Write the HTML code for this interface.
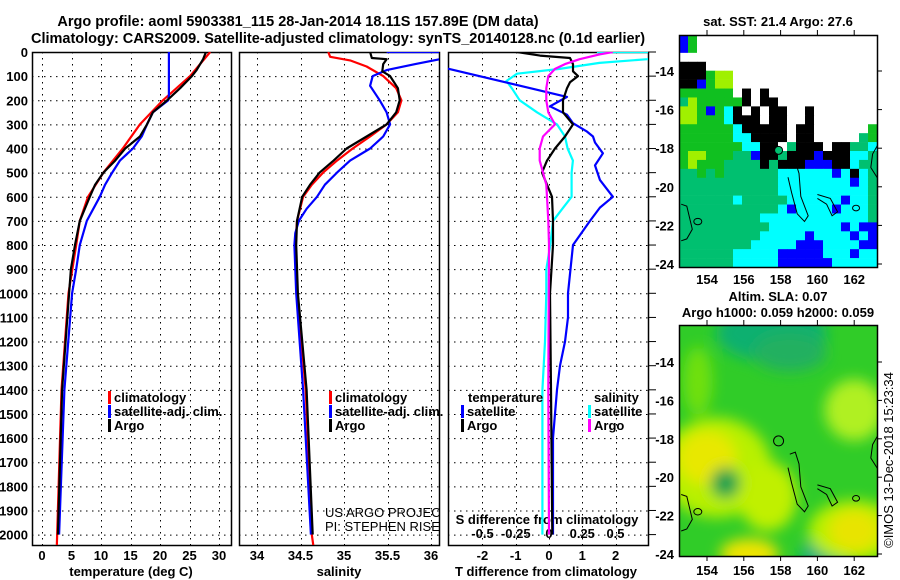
<!DOCTYPE html>
<html><head><meta charset="utf-8">
<style>
html,body{margin:0;padding:0;background:#fff;}
svg{display:block;font-family:"Liberation Sans",Arial,sans-serif;}
.b{font-weight:bold;font-size:13px;fill:#000;}
.n{font-weight:normal;font-size:13px;fill:#000;}
</style></head>
<body>
<svg id="fig" width="900" height="580" viewBox="0 0 900 580">
<defs>
<clipPath id="cp1"><rect x="32" y="52" width="199" height="493"/></clipPath>
<clipPath id="cp2"><rect x="239" y="52" width="200" height="493"/></clipPath>
<clipPath id="cp3"><rect x="448" y="52" width="200" height="493"/></clipPath>
<clipPath id="cm1"><rect x="679" y="35" width="198" height="232"/></clipPath>
<clipPath id="cm2"><rect x="679" y="325" width="198" height="231"/></clipPath>
<filter id="blur" x="-50%" y="-50%" width="200%" height="200%"><feGaussianBlur stdDeviation="7"/></filter>
</defs>
<text x="298" y="26" text-anchor="middle" font-weight="bold" font-size="14.5">Argo profile: aoml 5903381_115 28-Jan-2014 18.11S 157.89E (DM data)</text>
<text x="338" y="43" text-anchor="middle" font-weight="bold" font-size="14.5">Climatology: CARS2009. Satellite-adjusted climatology: synTS_20140128.nc (0.1d earlier)</text>
<text x="778" y="26" text-anchor="middle" class="b">sat. SST: 21.4 Argo: 27.6</text>
<text x="778" y="301" text-anchor="middle" class="b">Altim. SLA: 0.07</text>
<text x="778" y="317" text-anchor="middle" class="b">Argo h1000: 0.059 h2000: 0.059</text>
<text transform="translate(893,460) rotate(-90)" text-anchor="middle" font-size="13">©IMOS 13-Dec-2018 15:23:34</text>
<g id="layer"></g>
</svg>
<script>
// ---- data ----
const tempArgoDepth=[0,30,75,100,150,200,250,300,350,400,450,500,550,600,700,800,900,1000,1400,2000];
const tempArgo=[27.8,27.3,26.2,25.4,23.4,21.2,18.8,17.8,16.6,14.1,12.4,10.4,9.0,8.1,6.4,5.6,4.9,4.6,3.4,2.7];
const tempClimDepth=[0,100,200,300,400,500,600,700,800,1000,1400,2050];
const tempClim=[28.5,25.1,20.5,16.6,13.7,10.4,7.8,6.4,5.8,4.5,3.3,2.5];
const tempSatDepth=[0,180,200,250,300,350,400,450,500,550,600,650,700,800,900,1000,1400,2000];
const tempSat=[21.5,21.5,21.4,18.8,17.8,16.9,15.4,13.2,11.9,10.7,9.8,8.7,7.6,6.4,5.8,5.1,3.8,2.9];

const salClimDepth=[0,20,35,60,100,150,200,250,300,350,400,450,500,550,600,700,800,1000,1400,2000,2050];
const salClim=[34.82,34.84,35.07,35.26,35.45,35.6,35.66,35.62,35.49,35.3,35.1,34.92,34.76,34.63,34.53,34.46,34.44,34.46,34.56,34.63,34.65];
const salArgoDepth=[0,25,30,50,80,100,150,200,250,300,350,400,450,500,550,600,700,800,1000,1400,2000];
const salArgo=[35.3,35.32,35.49,35.45,35.44,35.53,35.62,35.64,35.6,35.49,35.26,35.03,34.88,34.72,34.61,34.52,34.46,34.45,34.47,34.57,34.64];
const salSatDepth=[0,0,30,50,75,100,140,200,250,300,350,400,450,500,550,600,650,700,750,800,1000,1400,2000];
const salSat=[35.49,36.3,36.1,35.82,35.49,35.33,35.3,35.41,35.49,35.53,35.45,35.3,35.07,34.92,34.78,34.69,34.57,34.48,34.44,34.43,34.45,34.53,34.62];

const dTArgoDepth=[0,15,25,50,80,100,125,150,200,250,300,350,400,450,500,550,600,700,800,1000,1400,2000];
const dTArgo=[-0.96,-0.27,0.63,0.72,0.72,0.87,0.63,0.54,0.42,0.42,0.72,0.48,0.18,-0.06,-0.21,-0.06,0.09,0.12,0.12,0.03,0.06,0.1];
const dTSatDepth=[60,70,186,225,260,295,330,350,375,420,470,530,600,645,700,800,1000,1100,1200,1300,1400,1500,1600,1800,2000];
const dTSat=[-3.4,-3.0,0.54,0.03,0.54,0.72,1.14,1.32,1.38,1.62,1.38,1.53,1.92,1.53,1.23,0.72,0.57,0.57,0.48,0.33,0.24,0.18,0.12,0.12,0.12];
const dSArgoDepth=[0,10,30,50,70,100,150,200,250,300,325,350,400,450,500,550,600,700,800,1400,2000];
const dSArgo=[0.48,0.38,0.23,0.12,0.045,-0.005,-0.02,-0.02,-0.005,0.045,0.0,-0.045,-0.07,-0.07,-0.045,-0.02,-0.015,-0.005,0.0,-0.005,0.0];
const dSSatDepth=[0,0,30,45,70,90,120,150,200,250,300,350,400,450,500,550,600,650,700,800,900,1000,1200,1400,1600,2000];
const dSSat=[0.36,0.9,0.74,0.38,0.08,-0.24,-0.32,-0.28,-0.22,-0.09,0.06,0.12,0.14,0.18,0.17,0.17,0.17,0.1,0.03,0.01,-0.02,-0.02,-0.03,-0.05,-0.05,-0.05];

const depthTicks=[0,100,200,300,400,500,600,700,800,900,1000,1100,1200,1300,1400,1500,1600,1700,1800,1900,2000];
const tempTicks=[0,5,10,15,20,25,30];
const salTicks=[34,34.5,35,35.5,36];
const salTickLabels=["34","34.5","35","35.5","36"];
const dTTicks=[-2,-1,0,1,2];
const dSTicks=[-0.5,-0.25,0,0.25,0.5];
const dSTickLabels=["-0.5","-0.25","0","0.25","0.5"];
const lonTicks=[154,156,158,160,162];
const latTicks=[-14,-16,-18,-20,-22,-24];

// SST map grid (K black, W white/no data, G green, L light green, D teal, C cyan, B blue)
const sstRows=[
"BGWWWWWWWWWWWWWWWWWWWW","BGWWWWWWWWWWWWWWWWWWWW","WWWWWWWWWWWWWWWWWWWWWW",
"KKKWWWWWWWWWWWWWWWWWWW","KKKGLLWWWWWWWWWWWWWWWW","KKBGLLWWWWWWWWWWWWWWWW",
"GGGGGGWKWKWWWWWWWWWWWW","DLGGGGGKWKKWWWWWWWWWWW","LLGBGCKWKWKKWWKWWWWWWW",
"LLGGGCKKKWKKWWKWWWWWWW","GGGGGGCKKKKKWKKWWWWWWG","GGGGGGCCKKKKWKKWWWWWDG",
"GGGGGGGCCKKWDKKKWKKDDC","GLLGGGDDBKKDKKKBKKKCCD","GLGGGDDDDKDKKKBBBKKCDD",
"DDGDGDDDDDDCCCCCCBCKCD","DDDDDDDDDDDCCCCCCCCBCD","DDDDDDDDDDDCCCCCCCCCCD",
"DDDDDDCDDDDDCCCCCCBCCD","DDDDDDDDDDDCBCCCCBCCCD","DDDDDDDDDCCCCCCCCCCCCD",
"DDDDDDDDDDCCCCCCCCBCBB","DDDDDDDDDCCCCCBCCCCBCB","DDDDDDDDCCCCCBBBCCCCBB",
"DDDDDDCCCCCBBBBBCCCBCC","DDDDDDCCCCCBBBBBBCCCCC"];
const sstColors={K:"#000000",W:"#ffffff",G:"#10c020",L:"#a0f000",D:"#00c070",C:"#00ffff",B:"#0000ff"};

// SLA map blobs: lon, lat, radius-lon, radius-lat, colour
const slaLon=[157.5,160.5,154.5,154,162,162,156.3,162,157.3,153.5,155,158.5];
const slaLat=[-12.5,-24,-19.5,-19,-22.8,-22.8,-24,-16.5,-21,-15,-20.3,-13.5];
const slaRx=[3,1.4,3,1.6,2.5,1.4,1.6,1.6,1.6,0.8,0.8,2];
const slaRy=[1.5,0.9,2.6,1.4,1.6,1.1,0.8,1.6,1.8,1.8,0.8,1];
const slaCol=["#10b070","#10b080","#b8f000","#e8e800","#b8f000","#e8e400","#f0e400","#b0f020","#c0f000","#70e010","#10a050","#20b060"];

// ---- scales ----
const yD=d=>52+0.2413*d;
const xT=t=>42+5.9*t;
const xS=s=>257+87*(s-34);
const xDT=t=>549+33.3*t;
const xDS=s=>549+133*s;
const xLon=l=>707+18.4*(l-154);
const yLat1=l=>71+19.3*(-14-l);
const yLat2=l=>362+19.2*(-14-l);

const NS="http://www.w3.org/2000/svg";
const layer=document.getElementById("layer");
function mk(tag,attrs,parent){const e=document.createElementNS(NS,tag);for(const k in attrs)e.setAttribute(k,attrs[k]);(parent||layer).appendChild(e);return e;}
function txt(x,y,s,anchor,cls,parent){const e=mk("text",{x:x,y:y,"text-anchor":anchor||"middle",class:cls||"b"},parent);e.textContent=s;return e;}

// ---- profile panels ----
const panels=[{x0:32,x1:231,clip:"cp1"},{x0:239,x1:439,clip:"cp2"},{x0:448,x1:648,clip:"cp3"}];
panels.forEach((p,i)=>{
  const g=mk("g",{});
  
  
  const grid=mk("g",{stroke:"#000","stroke-width":"1","stroke-dasharray":"1.5,4.5"},g);
  depthTicks.forEach(d=>{if(d>0)mk("line",{x1:p.x0,x2:p.x1,y1:yD(d)+0.5,y2:yD(d)+0.5},grid);});
  let xs=i==0?tempTicks.map(xT):i==1?salTicks.map(xS):dTTicks.map(xDT);
  xs.forEach(x=>mk("line",{x1:Math.round(x)+0.5,x2:Math.round(x)+0.5,y1:52,y2:545},grid));
  const r=mk("rect",{x:p.x0+0.5,y:52.5,width:p.x1-p.x0,height:493,fill:"none",stroke:"#000","stroke-width":"1.5"},g);
  
  
});
depthTicks.forEach(d=>{mk("line",{x1:648,x2:656,y1:yD(d),y2:yD(d),stroke:"#000"});});
depthTicks.forEach(d=>{
  const t=txt(28,yD(d)+5,String(d),"end");
  
  
});
tempTicks.forEach(v=>{const t=txt(xT(v),560,String(v));});
salTicks.forEach((v,i)=>{const t=txt(xS(v),560,salTickLabels[i]);});
dTTicks.forEach(v=>{const t=txt(xDT(v),560,String(v));});
dSTicks.forEach((v,i)=>{const t=txt(xDS(v),538,dSTickLabels[i]);});
let t;
t=txt(131,576,"temperature (deg C)");
t=txt(339,576,"salinity");
t=txt(546,576,"T difference from climatology");
t=txt(547,524,"S difference from climatology");

function series(depths,vals,xf,color,clip,name){
  const pts=depths.map((d,i)=>xf(vals[i]).toFixed(1)+","+yD(d).toFixed(1)).join(" ");
  const pl=mk("polyline",{points:pts,fill:"none",stroke:color,"stroke-width":"2.2","stroke-linejoin":"round","clip-path":"url(#"+clip+")"});
  
  
}
series(tempClimDepth,tempClim,xT,"#ff0000","cp1","temperature-climatology-line");
series(tempSatDepth,tempSat,xT,"#0000ff","cp1","temperature-satellite-line");
series(tempArgoDepth,tempArgo,xT,"#000000","cp1","temperature-argo-line");
series(salClimDepth,salClim,xS,"#ff0000","cp2","salinity-climatology-line");
series(salSatDepth,salSat,xS,"#0000ff","cp2","salinity-satellite-line");
series(salArgoDepth,salArgo,xS,"#000000","cp2","salinity-argo-line");
series(dSSatDepth,dSSat,xDS,"#00ffff","cp3","s-diff-satellite-line");
series(dTSatDepth,dTSat,xDT,"#0000ff","cp3","t-diff-satellite-line");
series(dTArgoDepth,dTArgo,xDT,"#000000","cp3","t-diff-argo-line");
series(dSArgoDepth,dSArgo,xDS,"#ff00ff","cp3","s-diff-argo-line");

function legend(x,y,color,label,name){
  const g=mk("g",{});
  
  
  mk("rect",{x:x,y:y-11,width:3,height:13,fill:color},g);
  txt(x+6,y,label,"start","b",g);
}
legend(108,402,"#ff0000","climatology","legend-temp-climatology");
legend(108,416,"#0000ff","satellite-adj. clim.","legend-temp-satellite");
legend(108,430,"#000000","Argo","legend-temp-argo");
legend(329,402,"#ff0000","climatology","legend-sal-climatology");
legend(329,416,"#0000ff","satellite-adj. clim.","legend-sal-satellite");
legend(329,430,"#000000","Argo","legend-sal-argo");
t=txt(468,402,"temperature","start");
t=txt(594,402,"salinity","start");
legend(461,416,"#0000ff","satellite","legend-tdiff-satellite");
legend(461,430,"#000000","Argo","legend-tdiff-argo");
legend(588,416,"#00ffff","satellite","legend-sdiff-satellite");
legend(588,430,"#ff00ff","Argo","legend-sdiff-argo");
const cg=mk("g",{"clip-path":"url(#cp2)"});
t=txt(325,517,"US ARGO PROJECT","start","n",cg);
t=txt(325,531,"PI: STEPHEN RISER","start","n",cg);

// ---- map 1: SST ----
const m1=mk("g",{"clip-path":"url(#cm1)"});


const cw=198/22, ch=232/26;
sstRows.forEach((row,r)=>{for(let c=0;c<row.length;c++){
  mk("rect",{x:(679+c*cw).toFixed(2),y:(35+r*ch).toFixed(2),width:(cw+0.3).toFixed(2),height:(ch+0.3).toFixed(2),fill:sstColors[row[c]]},m1);
}});
function islands(g,yl){
  const isl=[[[158.5,-18.8],[158.8,-18.7],[159.0,-19.3],[159.1,-20.5],[159.5,-21.5],[159.3,-21.8],[158.9,-21.4],[158.6,-20.3],[158.4,-19.5]],
   [[160.0,-20.4],[160.7,-20.6],[161.1,-21.3],[160.8,-21.5],[160.5,-20.9],[160.0,-20.6]],
   [[152.6,-20.9],[152.9,-21.0],[153.2,-22.2],[152.9,-22.7],[152.6,-22.8]],
   [[163.3,-17.8],[163.0,-18.3],[162.9,-19.0],[163.3,-19.6]]];
  isl.forEach(p=>mk("polyline",{points:p.map(q=>xLon(q[0]).toFixed(1)+","+yl(q[1]).toFixed(1)).join(" "),fill:"none",stroke:"#000","stroke-width":"1"},g));
  [[153.5,-21.8,4],[162.1,-21.1,3.5]].forEach(c=>mk("ellipse",{cx:xLon(c[0]),cy:yl(c[1]),rx:c[2],ry:c[2]*0.8,fill:"none",stroke:"#000"},g));
}
islands(m1,yLat1);
mk("circle",{cx:xLon(157.89),cy:yLat1(-18.11),r:4,fill:"#00c070",stroke:"#000"},m1);
mk("rect",{x:679.5,y:35.5,width:198,height:232,fill:"none",stroke:"#000","stroke-width":"1.5"});

// ---- map 2: SLA ----
const m2=mk("g",{"clip-path":"url(#cm2)"});


mk("rect",{x:679,y:325,width:198,height:231,fill:"#30cc28"},m2);
const bl=mk("g",{filter:"url(#blur)"},m2);
slaLon.forEach((lo,i)=>{
  mk("ellipse",{cx:xLon(lo),cy:yLat2(slaLat[i]),rx:slaRx[i]*18.4,ry:slaRy[i]*19.2,fill:slaCol[i]},bl);
});
islands(m2,yLat2);
mk("circle",{cx:xLon(157.89),cy:yLat2(-18.11),r:5,fill:"none",stroke:"#000"},m2);
mk("rect",{x:679.5,y:325.5,width:198,height:231,fill:"none",stroke:"#000","stroke-width":"1.5"});

lonTicks.forEach(l=>{
  const x=xLon(l);
  mk("line",{x1:x,x2:x,y1:30,y2:35,stroke:"#000"});
  mk("line",{x1:x,x2:x,y1:320,y2:325,stroke:"#000"});
  mk("line",{x1:x,x2:x,y1:556,y2:561,stroke:"#000"});
  let a=txt(x,284,String(l));
  a=txt(x,575,String(l));
});
latTicks.forEach(l=>{
  let y=yLat1(l);
  mk("line",{x1:877,x2:882,y1:y,y2:y,stroke:"#000"});
  let a=txt(674,y+5,String(l),"end");
  y=yLat2(l);
  mk("line",{x1:877,x2:882,y1:y,y2:y,stroke:"#000"});
  a=txt(674,y+5,String(l),"end");
});
</script>
</body></html>
